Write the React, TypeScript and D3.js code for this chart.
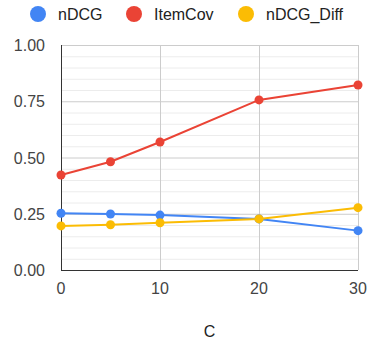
import React, { useEffect, useRef } from "react";
import * as d3 from "d3";

const cValues = [0, 5, 10, 20, 30];
const nDCG = [0.252, 0.249, 0.244, 0.227, 0.175];
const itemCov = [0.422, 0.481, 0.569, 0.756, 0.822];
const nDCGDiff = [0.196, 0.201, 0.21, 0.227, 0.277];
const seriesNames = ["nDCG", "ItemCov", "nDCG_Diff"];
const seriesColors = ["#4285f4", "#ea4335", "#fbbc04"];
const xTicks = [0, 10, 20, 30];
const yTicks = [0, 0.25, 0.5, 0.75, 1];

const App = () => {
  const svgRef = useRef<SVGSVGElement>(null);

  useEffect(() => {
    const svg = d3.select(svgRef.current);
    svg.selectAll("*").remove();

    const font = "Arial, 'Liberation Sans', sans-serif";
    const x = d3.scaleLinear().domain([0, 30]).range([61, 358]);
    const y = d3.scaleLinear().domain([0, 1]).range([270, 45]);

    // minor gridlines
    svg.append("g")
      .selectAll("line")
      .data(d3.range(0, 1.001, 0.05).filter(v => Math.abs((v * 4) - Math.round(v * 4)) > 0.01))
      .enter()
      .append("line")
      .attr("x1", x(0)).attr("x2", x(30))
      .attr("y1", d => y(d) + 0.5).attr("y2", d => y(d) + 0.5)
      .attr("stroke", "#ececec");

    // major gridlines
    svg.append("g")
      .selectAll("line")
      .data(yTicks.filter(v => v > 0))
      .enter()
      .append("line")
      .attr("x1", x(0)).attr("x2", x(30))
      .attr("y1", d => y(d) + 0.5).attr("y2", d => y(d) + 0.5)
      .attr("stroke", "#cccccc");

    svg.append("g")
      .selectAll("line")
      .data(xTicks.filter(v => v > 0))
      .enter()
      .append("line")
      .attr("x1", d => x(d) + 0.5).attr("x2", d => x(d) + 0.5)
      .attr("y1", y(1)).attr("y2", y(0))
      .attr("stroke", "#cccccc");

    // axes lines
    svg.append("line")
      .attr("x1", x(0)).attr("x2", x(30))
      .attr("y1", y(0) + 0.5).attr("y2", y(0) + 0.5)
      .attr("stroke", "#333");
    svg.append("line")
      .attr("x1", x(0) + 0.5).attr("x2", x(0) + 0.5)
      .attr("y1", y(1)).attr("y2", y(0))
      .attr("stroke", "#333");

    // tick labels
    svg.append("g")
      .selectAll("text")
      .data(yTicks)
      .enter()
      .append("text")
      .attr("x", 45)
      .attr("y", d => y(d) + 6)
      .attr("text-anchor", "end")
      .style("font-family", font)
      .style("font-size", "16px")
      .style("fill", "#444")
      .text(d => d3.format(".2f")(d));

    svg.append("g")
      .selectAll("text")
      .data(xTicks)
      .enter()
      .append("text")
      .attr("x", d => x(d))
      .attr("y", 294)
      .attr("text-anchor", "middle")
      .style("font-family", font)
      .style("font-size", "16px")
      .style("fill", "#444")
      .text(d => String(d));

    svg.append("text")
      .attr("x", (x(0) + x(30)) / 2)
      .attr("y", 337)
      .attr("text-anchor", "middle")
      .style("font-family", font)
      .style("font-size", "16px")
      .style("fill", "#222")
      .text("C");

    // series
    const allSeries = [nDCG, itemCov, nDCGDiff];
    const line = d3.line<number>()
      .x((_, i) => x(cValues[i]))
      .y(d => y(d));

    allSeries.forEach((vals, si) => {
      svg.append("path")
        .attr("d", line(vals))
        .attr("fill", "none")
        .attr("stroke", seriesColors[si])
        .attr("stroke-width", 2);
      svg.append("g")
        .selectAll("circle")
        .data(vals)
        .enter()
        .append("circle")
        .attr("cx", (_, i) => x(cValues[i]))
        .attr("cy", d => y(d))
        .attr("r", 4.5)
        .attr("fill", seriesColors[si]);
    });

    // legend
    const legendX = [38, 134, 246];
    seriesNames.forEach((name, i) => {
      const g = svg.append("g").attr("transform", `translate(${legendX[i]}, 14)`);
      g.append("circle").attr("r", 8).attr("fill", seriesColors[i]);
      g.append("text")
        .attr("x", 20)
        .attr("y", 6)
        .style("font-family", font)
        .style("font-size", "16px")
        .style("fill", "#222")
        .text(name);
    });
  }, []);

  return (
    <svg
      ref={svgRef}
      width={373}
      height={345}
      style={{ position: "absolute", left: 0, top: 0, background: "#fff" }}
    />
  );
};

export default App;
